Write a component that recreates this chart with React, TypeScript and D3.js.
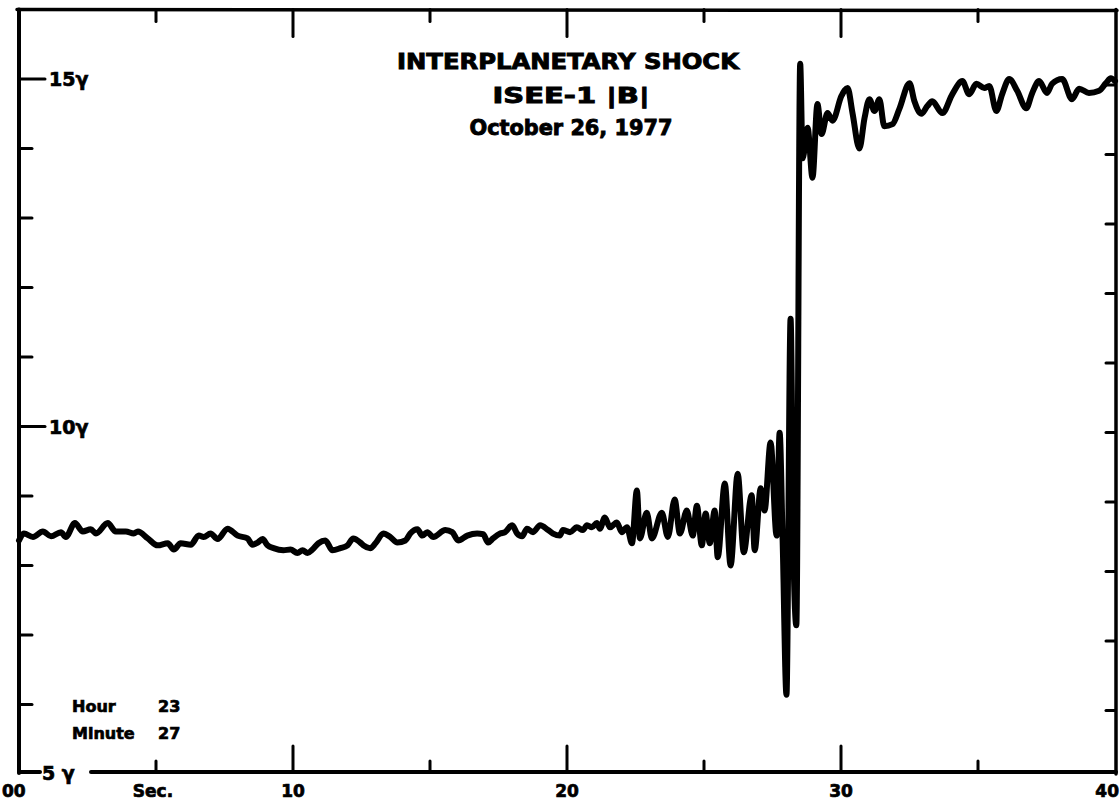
import React from "react";
import * as d3 from "d3";

// |B| in gamma vs seconds after 23:27:00
const upstream: [number, number][] = [
  [0, 8.36], [0.18, 8.46], [0.51, 8.41], [0.87, 8.49], [1.17, 8.42], [1.53, 8.48],
  [1.71, 8.41], [2.04, 8.61], [2.33, 8.49], [2.62, 8.52], [2.81, 8.46], [3.24, 8.61],
  [3.53, 8.49], [3.9, 8.49], [4.19, 8.46], [4.34, 8.49], [4.7, 8.39], [5.06, 8.29],
  [5.43, 8.32], [5.65, 8.23], [5.9, 8.32], [6.27, 8.3], [6.56, 8.43], [6.74, 8.41],
  [6.99, 8.46], [7.25, 8.38], [7.61, 8.53], [7.98, 8.43], [8.34, 8.39], [8.52, 8.3],
  [8.71, 8.33], [8.89, 8.38], [9.07, 8.29], [9.29, 8.25], [9.65, 8.22], [9.91, 8.23],
  [10.16, 8.18], [10.35, 8.22], [10.53, 8.18], [10.71, 8.23], [10.93, 8.32], [11.18, 8.36],
  [11.44, 8.22], [11.73, 8.25], [11.99, 8.29], [12.2, 8.39], [12.46, 8.33], [12.57, 8.29],
  [12.82, 8.25], [13.01, 8.32], [13.3, 8.46], [13.55, 8.41], [13.81, 8.33], [14.1, 8.36],
  [14.28, 8.46], [14.54, 8.52], [14.72, 8.43], [14.9, 8.48], [15.12, 8.41], [15.56, 8.51],
  [15.81, 8.48], [16.03, 8.36], [16.36, 8.43], [16.72, 8.46], [16.94, 8.45], [17.12, 8.33],
  [17.3, 8.39], [17.56, 8.46], [17.74, 8.48], [18.0, 8.58], [18.18, 8.46], [18.36, 8.42],
  [18.54, 8.53], [18.76, 8.48], [19.02, 8.58], [19.31, 8.51], [19.49, 8.46], [19.74, 8.43],
  [19.85, 8.51], [20.11, 8.48], [20.36, 8.55], [20.58, 8.51], [20.73, 8.58], [20.91, 8.55],
  [21.09, 8.61], [21.2, 8.53], [21.38, 8.69], [21.57, 8.55], [21.82, 8.62], [22.0, 8.48],
  [22.19, 8.55], [22.37, 8.32],
];

const waves: [number, number][] = [
  [22.55, 9.08], [22.66, 8.39], [22.91, 8.76], [23.1, 8.39], [23.46, 8.76], [23.68, 8.41],
  [23.93, 8.95], [24.12, 8.46], [24.37, 8.79], [24.59, 8.43], [24.74, 8.86], [24.92, 8.29],
  [25.06, 8.75], [25.21, 8.32], [25.39, 8.79], [25.5, 8.12], [25.76, 9.18], [25.97, 8.0],
  [26.23, 9.32], [26.45, 8.19], [26.74, 9.01], [26.85, 8.22], [27.07, 9.11], [27.21, 8.79],
  [27.43, 9.77], [27.65, 8.43], [27.76, 9.91], [27.87, 8.36],
];

const shock: [number, number][] = [
  [28.01, 6.14], [28.16, 11.55], [28.27, 8.07], [28.37, 7.14], [28.51, 15.22],
];

const downstream: [number, number][] = [
  [28.6, 13.86], [28.78, 14.3], [28.96, 13.58], [29.14, 14.64], [29.29, 14.21], [29.51, 14.51],
  [29.69, 14.4], [30.02, 14.76], [30.24, 14.87], [30.42, 14.51], [30.67, 14.0], [30.86, 14.44],
  [31.04, 14.71], [31.22, 14.54], [31.4, 14.71], [31.58, 14.32], [31.88, 14.35], [32.13, 14.57],
  [32.5, 14.94], [32.68, 14.68], [32.93, 14.5], [33.15, 14.61], [33.33, 14.68], [33.7, 14.51],
  [34.06, 14.78], [34.43, 14.97], [34.68, 14.78], [34.94, 14.93], [35.23, 14.87], [35.41, 14.9],
  [35.67, 14.54], [35.88, 14.78], [36.14, 15.0], [36.43, 14.83], [36.76, 14.58], [36.98, 14.8],
  [37.23, 14.97], [37.52, 14.8], [37.7, 14.93], [38.07, 15.0], [38.43, 14.71], [38.69, 14.86],
  [39.05, 14.8], [39.42, 14.83], [39.67, 14.94], [39.85, 15.01], [40, 14.97],
];

const titleLines = ["INTERPLANETARY SHOCK", "ISEE-1  |B|", "October 26, 1977"];
const xTickLabels = ["00", "10", "20", "30", "40"];
const yTickLabels = [
  { v: 15, label: "15γ" },
  { v: 10, label: "10γ" },
];

const W = 1120;
const H = 806;
const FONT = "'DejaVu Sans', sans-serif";

const App = () => {
  const x = d3.scaleLinear().domain([0, 40]).range([19, 1115]);
  const y = d3.scaleLinear().domain([5, 16]).range([774, 9.5]);

  const data = [...upstream, ...waves, ...shock, ...downstream];
  const line = d3
    .line<[number, number]>()
    .x((d) => x(d[0]))
    .y((d) => y(d[1]))
    .curve(d3.curveMonotoneX);

  const yTicks = d3.range(6, 16);
  const xTicks = d3.range(5, 40, 5);

  return (
    <svg
      width={W}
      height={H}
      style={{ position: "absolute", left: 0, top: 0, background: "#fff" }}
      fontFamily={FONT}
    >
      <rect width={W} height={H} fill="#fff" />
      <g stroke="#000" strokeLinecap="round" fill="none">
        {/* frame */}
        <line x1={x(0)} x2={x(0)} y1={y(16)} y2={y(5) - 1} strokeWidth={4} />
        <line x1={x(0) - 2} x2={x(40) + 2} y1={y(16)} y2={y(16) + 1} strokeWidth={3.5} />
        <line x1={x(40) + 1} x2={x(40) + 1} y1={y(16)} y2={y(5)} strokeWidth={3.5} />
        <line x1={x(0)} x2={x(0) + 21} y1={y(5) - 2} y2={y(5) - 2} strokeWidth={4} />
        <line x1={x(0) + 72} x2={x(40) + 1} y1={y(5) - 2} y2={y(5) - 2} strokeWidth={4} />

        {/* y ticks */}
        {yTicks.map((v) => {
          const major = v % 5 === 0;
          return (
            <g key={"y" + v}>
              <line x1={x(0)} x2={x(0) + (major ? 26 : 13)} y1={y(v)} y2={y(v)} strokeWidth={3} />
              <line x1={x(40)} x2={x(40) - 9} y1={y(v) + 6} y2={y(v) + 6} strokeWidth={3} />
            </g>
          );
        })}

        {/* x ticks */}
        {xTicks.map((t) => {
          const major = t % 10 === 0;
          return (
            <g key={"x" + t}>
              <line x1={x(t)} x2={x(t)} y1={y(5) - 2} y2={y(5) - 2 - (major ? 26 : 11)} strokeWidth={3} />
              <line x1={x(t)} x2={x(t)} y1={y(16)} y2={y(16) + (major ? 27 : 12)} strokeWidth={3} />
            </g>
          );
        })}

        {/* data trace */}
        <path d={line(data) ?? ""} strokeWidth={6} strokeLinejoin="round" />
      </g>

      <g fontWeight="bold" fill="#000" stroke="#000" strokeWidth={0.7}>
        {/* y labels */}
        {yTickLabels.map((d) => (
          <text key={d.label} x={x(0) + 30} y={y(d.v) + 7} fontSize={19}>
            {d.label}
          </text>
        ))}
        <text x={x(0) + 23} y={y(5) + 6} fontSize={19}>
          5 γ
        </text>

        {/* x labels */}
        {xTickLabels.map((label, i) => (
          <text
            key={label}
            x={i === 0 ? 2 : i === 4 ? W - 1 : x(i * 10)}
            y={797}
            fontSize={17}
            textAnchor={i === 0 ? "start" : i === 4 ? "end" : "middle"}
          >
            {label}
          </text>
        ))}
        <text x={x(5) - 3} y={797} fontSize={17} textAnchor="middle">
          Sec.
        </text>

        {/* hour / minute */}
        <g fontSize={16}>
          <text x={72} y={712}>Hour</text>
          <text x={158} y={712}>23</text>
          <text x={72} y={739}>Minute</text>
          <text x={158} y={739}>27</text>
        </g>

        {/* title */}
        <g textAnchor="middle" strokeWidth={0.9}>
          <text x={568} y={69} fontSize={21} textLength={342} lengthAdjust="spacingAndGlyphs">
            {titleLines[0]}
          </text>
          <text x={571} y={103} fontSize={21} textLength={157} lengthAdjust="spacingAndGlyphs">
            {titleLines[1]}
          </text>
          <text x={571} y={135} fontSize={21} textLength={203} lengthAdjust="spacingAndGlyphs">
            {titleLines[2]}
          </text>
        </g>
      </g>
    </svg>
  );
};

export default App;
